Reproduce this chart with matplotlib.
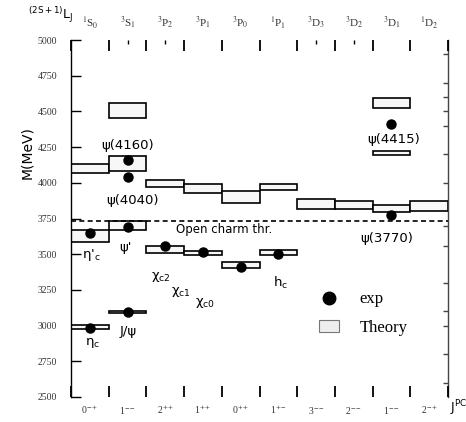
import matplotlib
matplotlib.use("Agg")
import matplotlib.pyplot as plt
from matplotlib.lines import Line2D
from matplotlib.patches import Patch

plt.rcParams['mathtext.fontset'] = 'stix'
plt.rcParams['font.family'] = ['DejaVu Sans']

# ---------------- data ----------------
term_labels = [r'$^{1}$S$_{0}$', r'$^{3}$S$_{1}$', r'$^{3}$P$_{2}$', r'$^{3}$P$_{1}$', r'$^{3}$P$_{0}$',
               r'$^{1}$P$_{1}$', r'$^{3}$D$_{3}$', r'$^{3}$D$_{2}$', r'$^{3}$D$_{1}$', r'$^{1}$D$_{2}$']
jpc_labels = [r'0$^{-+}$', r'1$^{--}$', r'2$^{++}$', r'1$^{++}$', r'0$^{++}$',
              r'1$^{+-}$', r'3$^{--}$', r'2$^{--}$', r'1$^{--}$', r'2$^{-+}$']

# theory boxes: column index, lower mass, upper mass (MeV)
theory_col = [0, 0, 0, 1, 1, 1, 1, 2, 2, 3, 3, 4, 4, 5, 5, 6, 7, 8, 8, 8, 9]
theory_low = [2973, 3587, 4068, 3090, 3669, 4085, 4451, 3509, 3972, 3493, 3930,
              3404, 3856, 3493, 3949, 3816, 3816, 3797, 4194, 4521, 3802]
theory_high = [3003, 3669, 4133, 3102, 3732, 4187, 4556, 3556, 4019, 3521, 3991,
               3442, 3942, 3528, 3991, 3884, 3874, 3844, 4222, 4591, 3872]

# experimental masses
exp_col = [0, 0, 1, 1, 1, 1, 2, 3, 4, 5, 8, 8]
exp_mass = [2980, 3645, 3096, 3687, 4038, 4159, 3559, 3512, 3411, 3500, 3774, 4410]

open_charm = 3732

# state labels: text, x (column units), mass
state_text = ['ψ(4160)', 'ψ(4040)', "η'$_{\\rm c}$", "ψ'",
              'χ$_{\\rm c2}$', 'χ$_{\\rm c1}$', 'χ$_{\\rm c0}$', 'h$_{\\rm c}$',
              'ψ(3770)', 'ψ(4415)', 'J/ψ', 'η$_{\\rm c}$']
state_x = [1.5, 1.63, 0.55, 1.45, 2.39, 2.92, 3.55, 5.57, 8.37, 8.55, 1.52, 0.58]
state_m = [4264, 3879, 3495, 3545, 3341, 3232, 3155, 3299, 3610, 4305, 2956, 2879]

yticks = [2500, 2750, 3000, 3250, 3500, 3750, 4000, 4250, 4500, 4750, 5000]
right_ticks = [2600, 2800, 3000, 3100, 3300, 3560, 3700, 4000, 4200, 4400, 4500, 4600, 4700, 4900]

# ---------------- figure ----------------
W, H = 466, 422
fig = plt.figure(figsize=(W / 100, H / 100), dpi=100)
L, R, T, B = 71, 448, 40, 397
ax = fig.add_axes([L / W, 1 - B / H, (R - L) / W, (B - T) / H])
ax.set_xlim(0, 10)
ax.set_ylim(2500, 5000)

# theory boxes
centers = [c + 0.5 for c in theory_col]
heights = [h - l for h, l in zip(theory_high, theory_low)]
ax.bar(centers, heights, bottom=theory_low, width=1.0, facecolor='#f7f7f7',
       edgecolor='black', linewidth=1.2, zorder=2)

# experiment points
ax.plot([c + 0.5 for c in exp_col], exp_mass, 'o', color='black', ms=6.5, zorder=4)

# open charm threshold
ax.axhline(open_charm, color='black', lw=1.2, ls=(0, (3, 2)), zorder=3)
ax.text(2.78, 3676, 'Open charm thr.', fontsize=8.5, ha='left', va='center')

for t, x, m in zip(state_text, state_x, state_m):
    ax.text(x, m, t, fontsize=9.5, ha='center', va='center', math_fontfamily='dejavusans')

# spines / ticks
for s in ['top', 'bottom', 'right']:
    ax.spines[s].set_visible(False)
ax.spines['left'].set_linewidth(1.0)
ax.set_xticks(range(0, 11))
ax.set_xticklabels([])
ax.set_xticks([1.5, 2.5, 6.5, 7.5], minor=True)
ax.tick_params(axis='x', which='major', direction='in', top=True, bottom=True,
               length=8, width=1.3, labelbottom=False)
ax.tick_params(axis='x', which='minor', direction='in', top=True, bottom=False,
               length=3, width=1.0)
ax.set_yticks(yticks)
ax.set_yticklabels([str(v) for v in yticks], fontfamily='Liberation Serif', fontsize=7, color='#333333')
ax.tick_params(axis='y', direction='in', left=True, right=False, length=7, width=1.0, pad=10)

sec = ax.secondary_yaxis('right')
sec.set_yticks(right_ticks)
sec.set_yticklabels([])
sec.tick_params(direction='in', length=3.5, width=1.0, color='#444444')
sec.spines['right'].set_linewidth(1.0)
sec.spines['right'].set_color('#444444')

# column labels
xt = ax.get_xaxis_transform()
for i, lab in enumerate(term_labels):
    ax.text(i + 0.5, 1 + 17 / (B - T), lab, transform=xt, ha='center', va='center',
            fontsize=8, fontfamily='Liberation Serif', clip_on=False, color='#333333')
for i, lab in enumerate(jpc_labels):
    ax.text(i + 0.5, -13 / (B - T), lab, transform=xt, ha='center', va='center',
            fontsize=7, fontfamily='Liberation Serif', clip_on=False, color='#333333')

fig.text(28 / W, 1 - 15 / H, r'$^{\rm (2S+1)}$L$_{\rm J}$', fontsize=9, ha='left', va='center',
         math_fontfamily='dejavusans')
fig.text(450 / W, 1 - 408 / H, r'J$^{\rm PC}$', fontsize=9, ha='left', va='center',
         math_fontfamily='dejavusans')
fig.text(27 / W, 1 - 153 / H, 'M(MeV)', fontsize=10, rotation=90, ha='center', va='center')

# legend
handles = [Line2D([], [], marker='o', ls='', color='black', ms=9),
           Patch(facecolor='#eeeeee', edgecolor='#777777', lw=0.8)]
ax.legend(handles, ['exp', 'Theory'], loc='upper left', bbox_to_anchor=(311 / W, 1 - 283 / H),
          bbox_transform=fig.transFigure, frameon=False,
          prop={'family': 'Liberation Serif', 'size': 12}, handlelength=1.2,
          handletextpad=1.2, labelspacing=0.75, borderpad=0)

fig.savefig('out.png', dpi=100)
